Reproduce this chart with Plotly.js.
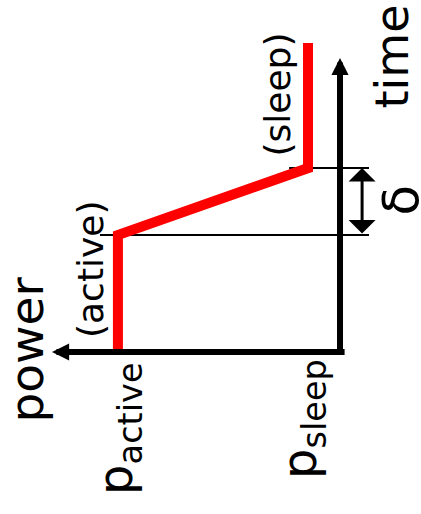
<!DOCTYPE html>
<html>
<head>
<meta charset="utf-8">
<script src="https://cdn.plot.ly/plotly-3.0.1.min.js"></script>
<style>html,body{margin:0;padding:0;background:#fff;}#chart{width:421px;height:514px;}</style>
</head>
<body>
<div id="chart"></div>
<script>
// ---- data ----
const timePoints = [0, 3.9, 6.13, 10.3];          // time at each vertex of the power profile
const powerPoints = [6.94, 6.94, 1.0, 1.0];       // power at each vertex
const levelValues = [6.94, 1.0];                  // p_active, p_sleep
const levelLabels = ['p<sub>active</sub>', 'p<sub>sleep</sub>'];
const phaseLabels = ['(active)', '(sleep)'];
const deltaLabel = 'δ';
const axisTitles = ['power', 'time'];

// ---- layout constants ----
const W = 421, H = 514;
const FONT = 'DejaVu Sans, Verdana, sans-serif';
const xRange = [10.625, -2.531];   // power axis, reversed (power grows to the left)
const yRange = [-5.4, 11.733];     // time axis
const powerAxisEnd = 9.0, timeAxisEnd = 9.8;
const guideRight = -0.906;
const deltaX = -0.69;

const px = v => v / W, py = v => 1 - v / H;

const tStart = timePoints[1], tEnd = timePoints[2];

const traces = [
  { x: [7.5, guideRight], y: [tStart, tStart], mode: 'lines',
    line: { color: '#000', width: 2 }, hoverinfo: 'skip' },
  { x: [1.59, guideRight], y: [tEnd, tEnd], mode: 'lines',
    line: { color: '#000', width: 2 }, hoverinfo: 'skip' },
  { x: powerPoints, y: timePoints, mode: 'lines',
    line: { color: '#ff0000', width: 10 }, hoverinfo: 'skip' }
];

const arrow = (x, y, ax, ay, extra) => Object.assign({
  x: x, y: y, ax: ax, ay: ay, xref: 'x', yref: 'y', axref: 'x', ayref: 'y',
  text: '', showarrow: true, font: { size: 1 }, standoff: 0, startstandoff: 0
}, extra);

const annotations = [
  // power axis (points left)
  arrow(powerAxisEnd, 0, -0.19, 0, { arrowhead: 2, arrowwidth: 6, arrowsize: 0.57, arrowcolor: '#000' }),
  // time axis (points up)
  arrow(0, timeAxisEnd, 0, -0.1, { arrowhead: 2, arrowwidth: 6, arrowsize: 0.57, arrowcolor: '#000' }),
  // delta double arrow
  arrow(deltaX, tEnd, deltaX, tStart, { arrowhead: 1, startarrowhead: 1, arrowside: 'end+start',
    arrowwidth: 3, arrowsize: 1.5, startarrowsize: 1.5, arrowcolor: '#000' }),
  // texts
  { text: axisTitles[0], xref: 'paper', yref: 'paper', x: px(25.5), y: py(350), showarrow: false,
    textangle: -90, xanchor: 'center', yanchor: 'middle', font: { family: FONT, size: 47, color: '#000' } },
  { text: axisTitles[1], xref: 'paper', yref: 'paper', x: px(391), y: py(56.5), showarrow: false,
    textangle: -90, xanchor: 'center', yanchor: 'middle', font: { family: FONT, size: 46, color: '#000' } },
  { text: phaseLabels[0], xref: 'paper', yref: 'paper', x: px(90), y: py(269), showarrow: false,
    textangle: -90, xanchor: 'center', yanchor: 'middle', font: { family: FONT, size: 36, color: '#000' } },
  { text: phaseLabels[1], xref: 'paper', yref: 'paper', x: px(277), y: py(94.5), showarrow: false,
    textangle: -90, xanchor: 'center', yanchor: 'middle', font: { family: FONT, size: 36, color: '#000' } },
  { text: deltaLabel, xref: 'paper', yref: 'paper', x: px(400.5), y: py(200), showarrow: false,
    textangle: -90, xanchor: 'center', yanchor: 'middle', font: { family: FONT, size: 50, color: '#000' } },
  { text: levelLabels[0], xref: 'x', yref: 'paper', x: levelValues[0], y: py(428), xshift: 0, showarrow: false,
    textangle: -90, xanchor: 'center', yanchor: 'middle', font: { family: FONT, size: 48, color: '#000' } },
  { text: levelLabels[1], xref: 'x', yref: 'paper', x: levelValues[1], y: py(419), xshift: -6, showarrow: false,
    textangle: -90, xanchor: 'center', yanchor: 'middle', font: { family: FONT, size: 48, color: '#000' } }
];

const layout = {
  width: W, height: H,
  margin: { l: 0, r: 0, t: 0, b: 0 },
  paper_bgcolor: '#fff', plot_bgcolor: '#fff',
  showlegend: false, hovermode: false,
  xaxis: { range: xRange, visible: false, fixedrange: true },
  yaxis: { range: yRange, visible: false, fixedrange: true },
  annotations: annotations
};

Plotly.newPlot('chart', traces, layout, { displayModeBar: false, staticPlot: true });
</script>
</body>
</html>
